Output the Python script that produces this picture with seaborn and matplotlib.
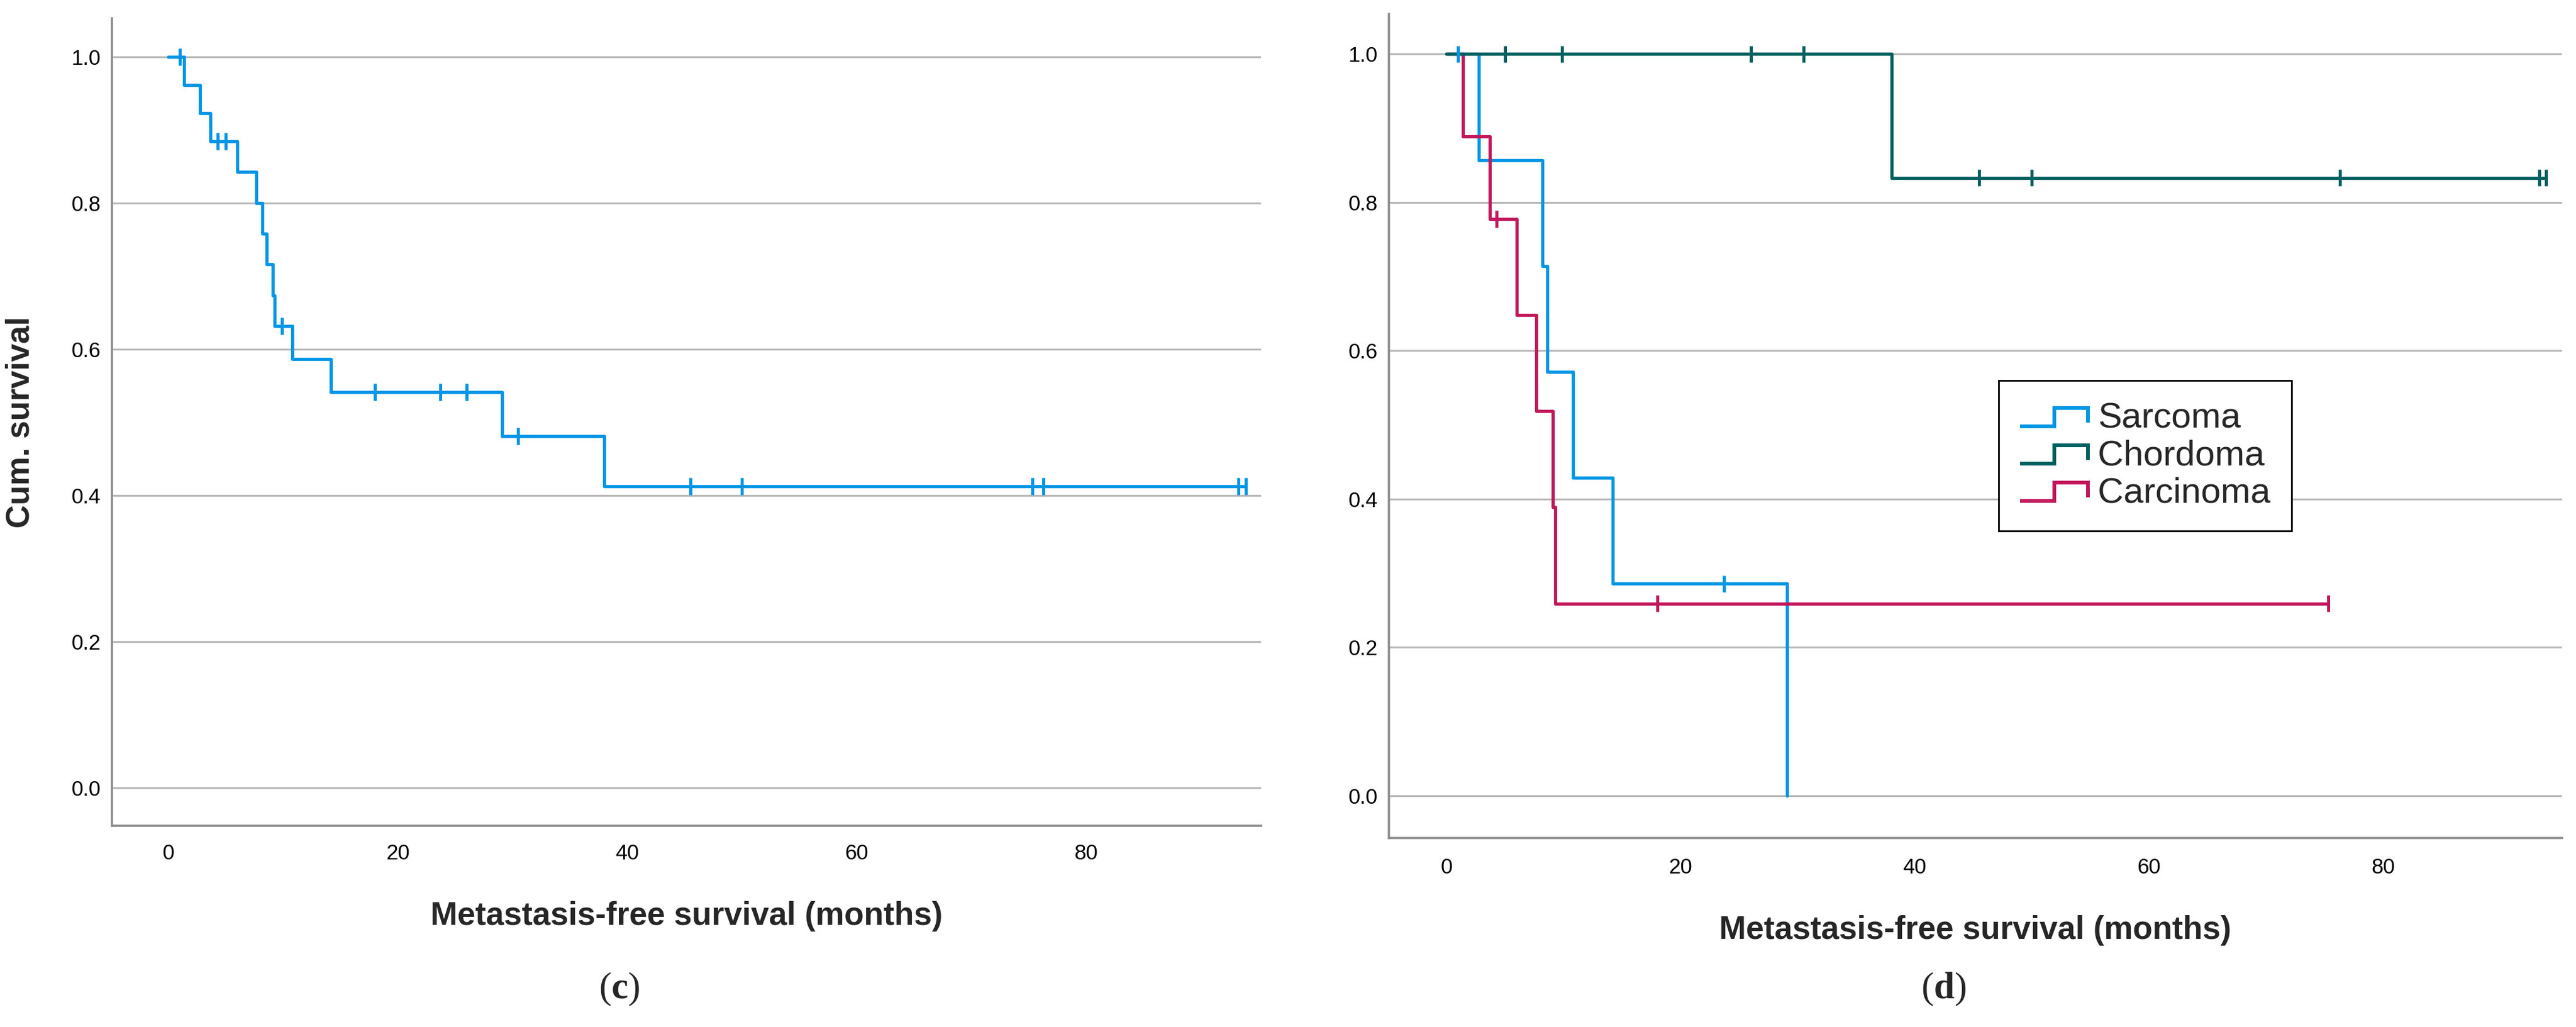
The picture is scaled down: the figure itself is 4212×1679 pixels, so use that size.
import numpy as np
import pandas as pd
import matplotlib
matplotlib.use("Agg")
import matplotlib.pyplot as plt
import seaborn as sns
from matplotlib.legend_handler import HandlerBase
from matplotlib.lines import Line2D

# ---------------- data ----------------
groups = ["Sarcoma", "Chordoma", "Carcinoma"]
colors = ["#0096E6", "#00605F", "#C2185B"]

sarcoma_time = [1.0, 2.8, 8.2, 8.6, 10.8, 14.2, 23.7, 29.1]
sarcoma_event = [0, 1, 1, 1, 1, 1, 0, 1]

chordoma_time = [5.0, 9.9, 26.0, 30.5, 38.0, 45.5, 50.0, 76.3, 93.3, 93.9]
chordoma_event = [0, 0, 0, 0, 1, 0, 0, 0, 0, 0]

carcinoma_time = [1.4, 3.7, 4.3, 6.0, 7.7, 9.1, 9.3, 18.0, 75.3]
carcinoma_event = [1, 1, 0, 1, 1, 1, 1, 0, 0]

x_ticks = [0, 20, 40, 60, 80]
y_ticks = [0.0, 0.2, 0.4, 0.6, 0.8, 1.0]
x_label = "Metastasis-free survival (months)"
y_label = "Cum. survival"
panel_labels = ["c", "d"]


def km(times, events):
    t = np.asarray(times, float)
    e = np.asarray(events, int)
    n = len(t)
    s = 1.0
    xs, ys, cx, cy = [0.0], [1.0], [], []
    for ti in np.unique(t):
        m = t == ti
        d = int(e[m].sum())
        c = int(m.sum()) - d
        if d > 0:
            s *= 1.0 - d / n
            xs.append(ti)
            ys.append(s)
        cx += [ti] * c
        cy += [s] * c
        n -= d + c
    if xs[-1] < t.max():
        xs.append(t.max())
        ys.append(s)
    return xs, ys, cx, cy


group_data = {
    "Sarcoma": (sarcoma_time, sarcoma_event),
    "Chordoma": (chordoma_time, chordoma_event),
    "Carcinoma": (carcinoma_time, carcinoma_event),
}

# ---------------- style ----------------
sns.set_style("white")
plt.rcParams["font.family"] = ["Liberation Sans", "DejaVu Sans"]
plt.rcParams["mathtext.fontset"] = "custom"
plt.rcParams["mathtext.rm"] = "Liberation Serif"
plt.rcParams["mathtext.bf"] = "Liberation Serif:bold"

W, H = 4212, 1679
fig = plt.figure(figsize=(W / 100, H / 100), dpi=100)
axL = fig.add_axes([183 / W, 1 - 1350 / H, (2062 - 183) / W, (1350 - 30) / H])
axR = fig.add_axes([2271 / W, 1 - 1370 / H, (4189 - 2271) / W, (1370 - 23) / H])

LW = 3.8
MS = 400
MLW = 3.6


def style_axes(ax, ylim, xpad):
    ax.set_xlim(-4.9, 95.25)
    ax.set_ylim(*ylim)
    ax.set_xticks(x_ticks)
    ax.set_yticks(y_ticks)
    ax.set_yticklabels([f"{v:.1f}" for v in y_ticks])
    ax.tick_params(axis="both", length=0, labelsize=25, colors="black")
    ax.tick_params(axis="x", pad=xpad)
    ax.tick_params(axis="y", pad=13)
    for side in ["top", "right"]:
        ax.spines[side].set_visible(False)
    for side in ["left", "bottom"]:
        ax.spines[side].set_color("#8c8c8c")
        ax.spines[side].set_linewidth(2.6)
    ax.grid(False)
    for v in y_ticks:
        ax.axhline(v, color="#b8b8b8", lw=2.2, zorder=0)
    ax.set_xlabel(x_label, fontsize=38, fontweight="bold", labelpad=44)
    ax.set_ylabel("")


# ---------------- left panel: all patients ----------------
all_t = sarcoma_time + chordoma_time + carcinoma_time
all_e = sarcoma_event + chordoma_event + carcinoma_event
xs, ys, cx, cy = km(all_t, all_e)
dfL = pd.DataFrame({"time": xs, "surv": ys})
cdfL = pd.DataFrame({"time": cx, "surv": cy})
sns.lineplot(data=dfL, x="time", y="surv", ax=axL, color=colors[0], lw=LW,
             drawstyle="steps-post", estimator=None, sort=False, legend=False, zorder=3)
sns.scatterplot(data=cdfL, x="time", y="surv", ax=axL, color=colors[0], marker="|",
                s=MS, linewidth=MLW, legend=False, zorder=4)
style_axes(axL, (-0.052, 1.053), 21)
fig.text(34 / W, 1 - 690 / H, y_label, fontsize=38, fontweight="bold",
         rotation=90, ha="center", va="center")

# ---------------- right panel: by histology ----------------
rows, crow = [], []
for g in groups:
    xs, ys, cx, cy = km(*group_data[g])
    rows += [(x, y, g) for x, y in zip(xs, ys)]
    crow += [(x, y, g) for x, y in zip(cx, cy)]
dfR = pd.DataFrame(rows, columns=["time", "surv", "group"])
cdfR = pd.DataFrame(crow, columns=["time", "surv", "group"])
pal = dict(zip(groups, colors))
line_order = ["Sarcoma", "Carcinoma", "Chordoma"]
sns.lineplot(data=dfR, x="time", y="surv", hue="group", hue_order=line_order, palette=pal,
             ax=axR, lw=LW, drawstyle="steps-post", estimator=None, sort=False,
             legend=False, zorder=3)
sns.scatterplot(data=cdfR, x="time", y="surv", hue="group", hue_order=line_order, palette=pal,
                ax=axR, marker="|", s=MS, linewidth=MLW, legend=False, zorder=4)
style_axes(axR, (-0.057, 1.054), 23)


class StepHandler(HandlerBase):
    def create_artists(self, legend, orig_handle, xdescent, ydescent, width, height, fontsize, trans):
        x0, y0 = -xdescent, -ydescent
        xs = [x0, x0 + 0.5 * width, x0 + 0.5 * width, x0 + width, x0 + width]
        ys = [y0 + 0.05 * height, y0 + 0.05 * height, y0 + 0.8 * height, y0 + 0.8 * height, y0 + 0.2 * height]
        ln = Line2D(xs, ys, color=orig_handle.get_color(), lw=orig_handle.get_linewidth(),
                    solid_joinstyle="miter", solid_capstyle="butt")
        ln.set_transform(trans)
        return [ln]


handles = [Line2D([], [], color=c, lw=4.4) for c in colors]
leg = axR.legend(handles, groups, handler_map={Line2D: StepHandler()},
                 loc="upper left", bbox_to_anchor=(0.52, 0.555), borderaxespad=0,
                 fontsize=42, frameon=True, fancybox=False, framealpha=1,
                 handlelength=1.9, handleheight=0.7, handletextpad=0.27,
                 labelspacing=0.12, borderpad=0.6)
leg.get_frame().set_edgecolor("black")
leg.get_frame().set_linewidth(2.0)

# ---------------- panel labels ----------------
fig.text(1013 / W, 1 - 1617 / H, r"($\mathbf{%s}$)" % panel_labels[0], fontsize=44,
         family="Liberation Serif", ha="center", va="center")
fig.text(3178 / W, 1 - 1617 / H, r"($\mathbf{%s}$)" % panel_labels[1], fontsize=44,
         family="Liberation Serif", ha="center", va="center")

fig.savefig("out.png", dpi=100, facecolor="white")
